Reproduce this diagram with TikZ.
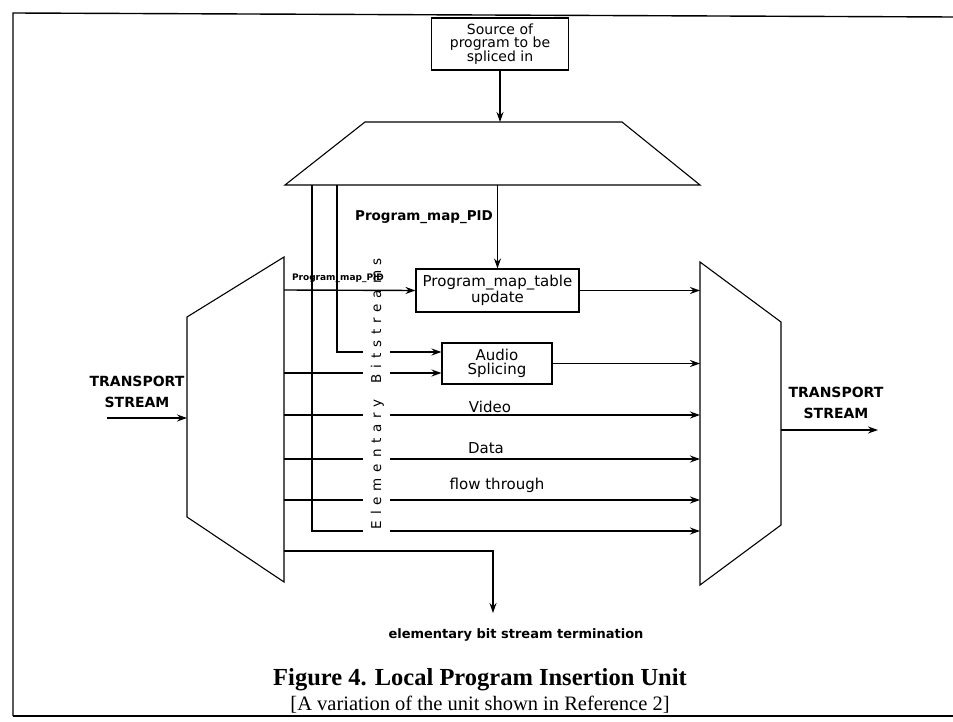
\documentclass[tikz,border=0pt]{standalone}
\usepackage{fontspec}
\setmainfont{Liberation Serif}
\setsansfont{DejaVu Sans}
\usetikzlibrary{arrows.meta,positioning,decorations.text}

\begin{document}
\begin{tikzpicture}[
    x=1pt, y=-1pt,
    unit/.style={draw, line width=1.1pt},
    blk/.style={draw, line width=1.1pt, align=center, inner sep=0pt,
      font=\sffamily\fontsize{15}{14}\selectfont},
    wire/.style={line width=1.4pt},
    feed/.style={wire, -{Stealth[length=10pt, width=7pt]}},
    lbl/.style={font=\sffamily\fontsize{15}{15}\selectfont},
    tag/.style={font=\sffamily\bfseries\fontsize{14}{21}\selectfont, align=center},
  ]
  \useasboundingbox (0,0) rectangle (953,722);

  % ---- page frame
  \draw[line width=1.4pt] (953,17) -- (13,13) -- (13,716);
  \draw[line width=2.6pt] (13,716) -- (953,716);

  % ---- program source and the selector under it
  \node[blk, minimum width=137pt, minimum height=52pt,
    font=\sffamily\fontsize{14}{13}\selectfont] (src) at (500,44)
    {Source of\\program to be\\spliced in};
  \draw[unit] (285,185) -- (365,122) coordinate (sel nw) -- (622,122) -- (700,185) -- cycle;
  \coordinate (sel in) at (500,122);
  \draw[feed] (src) -- (sel in);

  % ---- demultiplexer (left) and multiplexer (right)
  \draw[unit] (284,257) coordinate (dmx ne) -- (187,317) coordinate (dmx nw)
    -- (187,517) -- (284,582) -- cycle;
  \draw[unit] (700,262) coordinate (mux nw) -- (781,322) coordinate (mux ne)
    -- (781,525) -- (700,585) -- cycle;

  % ---- processing blocks
  \node[blk, minimum width=163pt, minimum height=43pt] (pmt) at (497.5,290.5)
    {Program\_map\_table\\update};
  \node[blk, minimum width=110pt, minimum height=41pt] (spl) at (497,363.5)
    {Audio\\Splicing};

  % ---- streams from the selector
  \draw[wire, line width=2.4pt] (312,185) -- (312,531);
  \draw[feed] (312,185) |- (mux nw |- 0,531);
  \draw[feed] (337,185) |- (spl.west |- 0,352);
  \draw[feed] (pmt.north |- 0,185) -- (pmt.north);
  \node[font=\sffamily\bfseries\fontsize{13.5}{13.5}\selectfont] (pidlbl) at (424,217)
    {Program\_map\_PID};

  % ---- streams from the demultiplexer
  \draw[feed] (dmx ne |- 0,290) -- (pmt.west);
  \draw[feed] (dmx ne |- 0,373) -- (spl.west |- 0,373);
  \foreach \y in {415,459,500}
    \draw[feed] (dmx ne |- 0,\y) -- (mux nw |- 0,\y);
  \draw[feed] (pmt.east) -- (mux nw |- pmt.east);
  \draw[feed] (spl.east) -- (mux nw |- spl.east);
  \node[font=\sffamily\bfseries\fontsize{9}{9}\selectfont] (pidsm) at (338,278)
    {Program\_map\_PID};
  \node[lbl] (vid) at (490,407) {Video};
  \node[lbl] (dat) at (486,448) {Data};
  \node[lbl] (flw) at (497,485) {flow through};

  % ---- elementary bitstream column
  \fill[white] (363,300) rectangle (390,542);
  \path[decorate, decoration={text along path,
      text={|\sffamily\fontsize{13.5}{13.5}\selectfont|Elementary Bitstreams},
      text align=fit to path}]
    (381,529) -- (381,258);

  % ---- termination
  \coordinate (term) at (493,613);
  \draw[feed] (dmx ne |- 0,551) -| (term);
  \node[font=\sffamily\bfseries\fontsize{13}{13}\selectfont] (termlbl) at (516,635)
    {elementary bit stream termination};

  % ---- transport stream in / out
  \coordinate (inport) at (107,418);
  \coordinate (outport) at (878,430);
  \draw[feed] (inport) -- (dmx nw |- inport);
  \draw[feed] (mux ne |- outport) -- (outport);
  \node[tag] (tsin) at (137,392) {TRANSPORT\\STREAM};
  \node[tag] (tsout) at (836,403) {TRANSPORT\\STREAM};

  % ---- caption
  \node[font=\rmfamily\bfseries\fontsize{24.5}{26}\selectfont] (cap) at (480,680)
    {Figure 4. Local Program Insertion Unit};
  \node[font=\rmfamily\fontsize{20.5}{22}\selectfont] (subcap) at (480,705)
    {[A variation of the unit shown in Reference 2]};
\end{tikzpicture}
\end{document}
